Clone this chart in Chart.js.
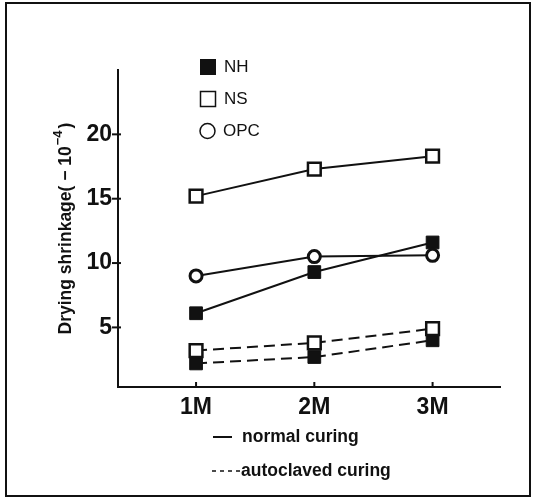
<!DOCTYPE html>
<html>
<head>
<meta charset="utf-8">
<script src="https://cdn.jsdelivr.net/npm/chart.js@4.4.1/dist/chart.umd.min.js"></script>
<style>
  body { margin: 0; background: #fff; }
</style>
</head>
<body>
<canvas id="chart" width="535" height="499"></canvas>
<script>
// data (x = months of curing, y = drying shrinkage x10^-4)
const months = [1, 2, 3];
const monthLabels = ['1M', '2M', '3M'];
const yTicks = [5, 10, 15, 20];

const nhNormal = [6.1, 9.3, 11.6];
const nsNormal = [15.2, 17.3, 18.3];
const opcNormal = [9.0, 10.5, 10.6];
const nhAuto = [2.2, 2.7, 4.0];
const nsAuto = [3.2, 3.8, 4.9];

const black = '#111';
const tickFont = '"Liberation Sans", Arial, sans-serif';

function pts(values) {
    return months.map((m, i) => ({ x: m, y: values[i] }));
}

// marker styles
const nhStyle = { pointStyle: 'rect', pointRadius: 9, pointBackgroundColor: black, pointBorderColor: black, pointBorderWidth: 1 };
const nsStyle = { pointStyle: 'rect', pointRadius: 9, pointBackgroundColor: '#fff', pointBorderColor: black, pointBorderWidth: 2.5 };
const opcStyle = { pointStyle: 'circle', pointRadius: 6, pointBackgroundColor: '#fff', pointBorderColor: black, pointBorderWidth: 3 };

function series(label, values, style, dashed) {
    return Object.assign({
        label: label,
        data: pts(values),
        showLine: true,
        borderColor: black,
        borderWidth: 2,
        borderDash: dashed ? [11, 6] : [],
        tension: 0
    }, style);
}

// tegner ramme, tick-streger, legender og y-titel
const paperExtras = {
    id: 'paperExtras',
    afterDraw(chart) {
        const { ctx, chartArea, scales: { x, y } } = chart;
        ctx.save();
        ctx.strokeStyle = black;
        ctx.fillStyle = black;

        // frame around the whole figure
        ctx.lineWidth = 2;
        ctx.strokeRect(6, 3, 524, 493);

        // y ticks cross the axis
        ctx.lineWidth = 2;
        yTicks.forEach(v => {
            const py = y.getPixelForValue(v);
            ctx.beginPath();
            ctx.moveTo(chartArea.left - 6, py);
            ctx.lineTo(chartArea.left + 3, py);
            ctx.stroke();
        });
        // x ticks point inward
        months.forEach(m => {
            const px = x.getPixelForValue(m);
            ctx.beginPath();
            ctx.moveTo(px, chartArea.bottom);
            ctx.lineTo(px, chartArea.bottom - 5);
            ctx.stroke();
        });

        // top legend (markers)
        const lx = 208;
        ctx.lineWidth = 1.5;
        ctx.fillRect(lx - 8, 59, 16, 16);
        ctx.strokeRect(lx - 7.5, 91.5, 15, 15);
        ctx.beginPath();
        ctx.arc(lx - 0.5, 131, 7.5, 0, Math.PI * 2);
        ctx.stroke();
        ctx.font = '17px "Liberation Sans Narrow", "Liberation Sans", Arial, sans-serif';
        ctx.textBaseline = 'middle';
        ctx.textAlign = 'left';
        ctx.fillText('NH', 224, 67);
        ctx.fillText('NS', 224, 99);
        ctx.fillText('OPC', 223, 131);

        // bottom legend (line types)
        ctx.lineWidth = 2;
        ctx.beginPath();
        ctx.moveTo(213, 437);
        ctx.lineTo(232, 437);
        ctx.stroke();
        ctx.setLineDash([4, 4]);
        ctx.lineWidth = 1.5;
        ctx.beginPath();
        ctx.moveTo(212, 471);
        ctx.lineTo(241, 471);
        ctx.stroke();
        ctx.setLineDash([]);
        ctx.font = 'bold 17.5px ' + tickFont;
        ctx.fillText('normal curing', 242, 437);
        ctx.fillText('autoclaved curing', 241, 471);

        // y axis title, rotated, with superscript
        ctx.translate(66, (chartArea.top + chartArea.bottom) / 2);
        ctx.rotate(-Math.PI / 2);
        const main = 'Drying shrinkage( \u2212 10';
        const sup = '\u22124';
        const tail = ')';
        ctx.font = 'bold 17.5px ' + tickFont;
        const wMain = ctx.measureText(main).width;
        const wTail = ctx.measureText(tail).width;
        ctx.font = 'bold 13px ' + tickFont;
        const wSup = ctx.measureText(sup).width;
        let tx = -(wMain + wSup + wTail + 3) / 2;
        ctx.font = 'bold 17.5px ' + tickFont;
        ctx.fillText(main, tx, 0);
        tx += wMain + 1;
        ctx.font = 'bold 13px ' + tickFont;
        ctx.fillText(sup, tx, -8);
        tx += wSup + 2;
        ctx.font = 'bold 17.5px ' + tickFont;
        ctx.fillText(tail, tx, 0);

        ctx.restore();
    }
};

new Chart(document.getElementById('chart'), {
    type: 'scatter',
    data: {
        datasets: [
            series('NS normal curing', nsNormal, nsStyle, false),
            series('OPC normal curing', opcNormal, opcStyle, false),
            series('NH normal curing', nhNormal, nhStyle, false),
            series('NS autoclaved curing', nsAuto, nsStyle, true),
            series('NH autoclaved curing', nhAuto, nhStyle, true)
        ]
    },
    options: {
        responsive: false,
        animation: false,
        layout: {
            padding: { top: 70, right: 35, left: 0, bottom: 0 }
        },
        scales: {
            x: {
                type: 'linear',
                min: 0.34,
                max: 3.57,
                afterFit: (scale) => { scale.height = 112; },
                afterBuildTicks: (scale) => { scale.ticks = months.map(m => ({ value: m })); },
                grid: { display: false, drawTicks: false },
                border: { display: true, color: black, width: 2 },
                ticks: {
                    padding: 7,
                    color: black,
                    font: { family: tickFont, size: 23, weight: 'bold' },
                    maxRotation: 0,
                    callback: (value, index) => monthLabels[index]
                }
            },
            y: {
                min: 0.37,
                max: 25,
                afterFit: (scale) => { scale.width = 118; },
                afterBuildTicks: (scale) => { scale.ticks = yTicks.map(v => ({ value: v })); },
                grid: { display: false, drawTicks: false },
                border: { display: true, color: black, width: 2 },
                ticks: {
                    padding: 6,
                    color: black,
                    font: { family: tickFont, size: 23, weight: 'bold' },
                    callback: (value) => String(value)
                }
            }
        },
        plugins: {
            legend: { display: false },
            tooltip: { enabled: false }
        }
    },
    plugins: [paperExtras]
});
</script>
</body>
</html>
